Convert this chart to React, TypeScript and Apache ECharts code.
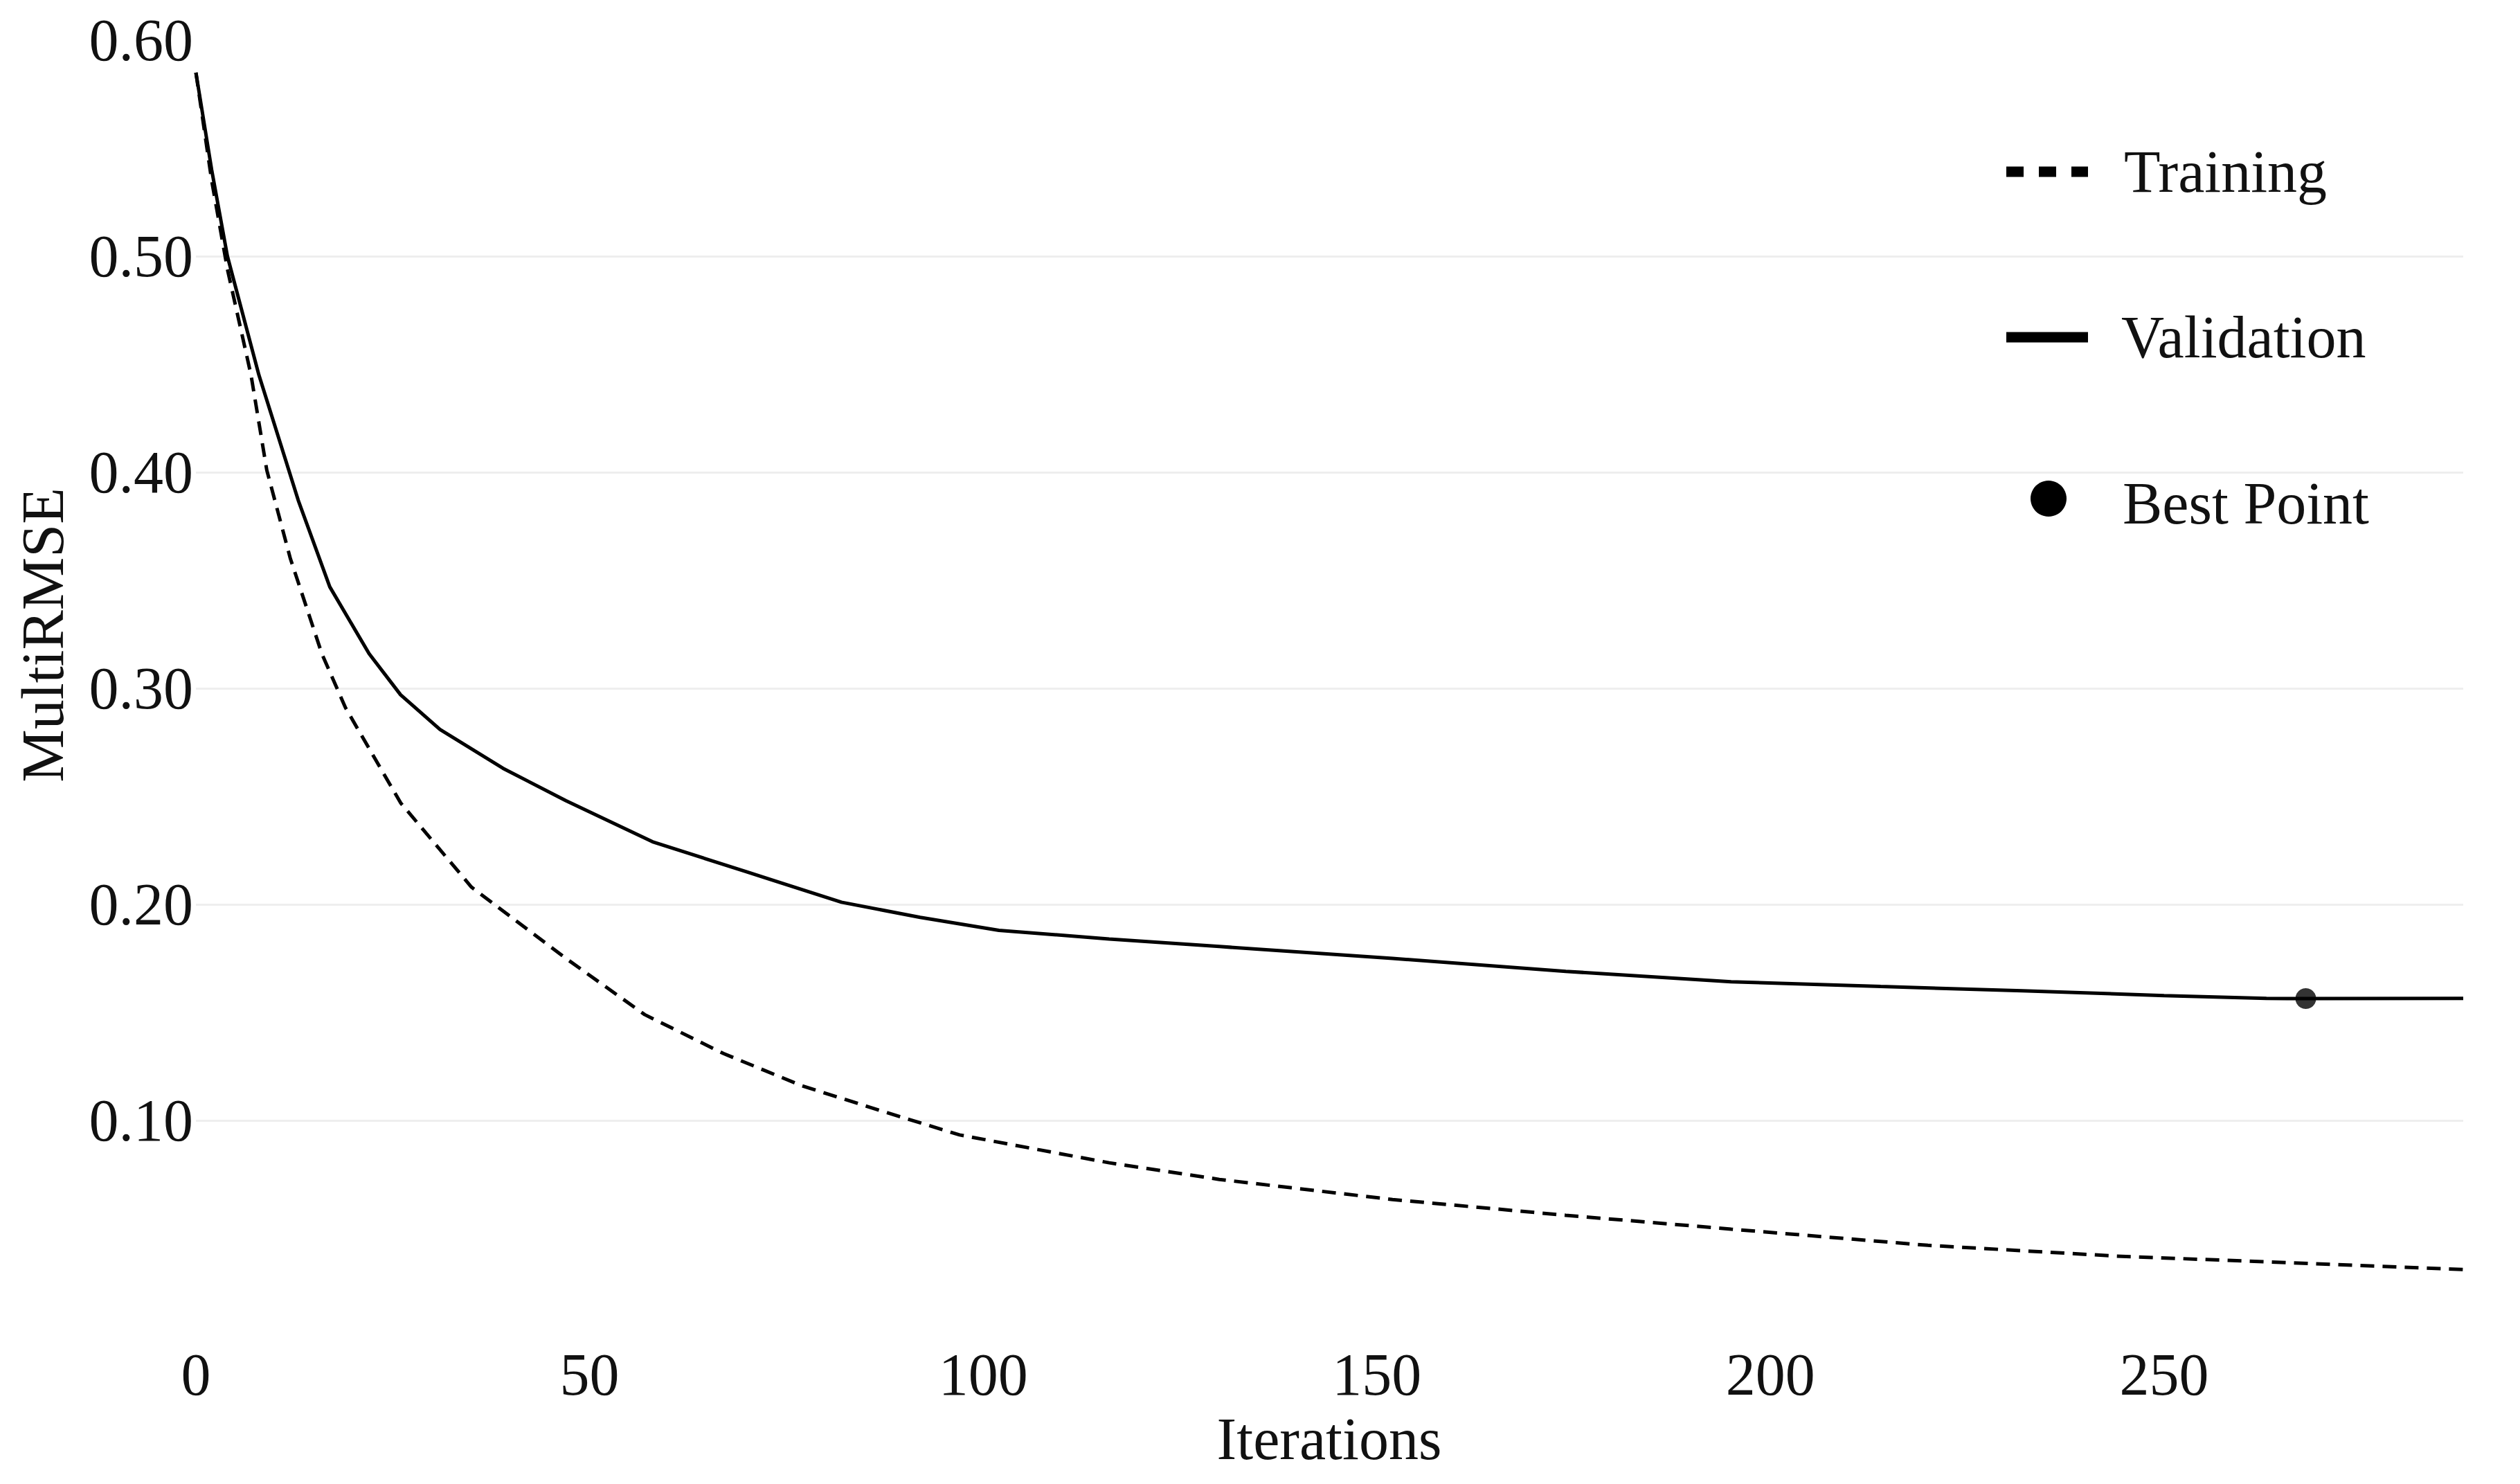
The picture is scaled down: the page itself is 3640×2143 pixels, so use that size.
import React, { useEffect, useRef } from "react";
import * as echarts from "echarts";

// Validation curve (iteration, MultiRMSE)
const validationIters = [0, 2, 4, 8, 13, 17, 22, 26, 31, 39, 47, 58, 70, 82, 92, 102, 116, 130, 152, 174, 195, 214, 232, 250, 263, 268, 288];
const validationValues = [0.585, 0.54, 0.5, 0.445, 0.387, 0.347, 0.316, 0.297, 0.281, 0.263, 0.248, 0.229, 0.215, 0.201, 0.194, 0.188, 0.184, 0.1805, 0.175, 0.169, 0.1642, 0.162, 0.16, 0.1578, 0.1565, 0.1564, 0.1565];

// Training curve (iteration, MultiRMSE)
const trainingIters = [0, 2, 4, 7, 9, 12, 16, 19, 26, 35, 47, 57, 67, 77, 87, 97, 107, 116, 130, 152, 174, 195, 220, 244, 269, 288];
const trainingValues = [0.585, 0.535, 0.494, 0.445, 0.401, 0.36, 0.316, 0.291, 0.247, 0.208, 0.175, 0.149, 0.131, 0.116, 0.1045, 0.0933, 0.0865, 0.0804, 0.0727, 0.0634, 0.0561, 0.0497, 0.0422, 0.0372, 0.0337, 0.031];

// Best point
const bestIter = [268];
const bestValue = [0.1564];

const legendLabels = ["Training", "Validation", "Best Point"];
const xAxisTitle = "Iterations";
const yAxisTitle = "MultiRMSE";

const FONT = "Liberation Serif";
const TEXT = "#111111";

export default function App() {
  const ref = useRef<HTMLDivElement>(null);

  useEffect(() => {
    if (!ref.current) return;
    const chart = echarts.init(ref.current, null, { renderer: "svg" });

    const training = trainingIters.map((x, i) => [x, trainingValues[i]]);
    const validation = validationIters.map((x, i) => [x, validationValues[i]]);
    const best = bestIter.map((x, i) => [x, bestValue[i]]);

    chart.setOption({
      animation: false,
      backgroundColor: "#ffffff",
      grid: { left: 283, right: 82, top: 58, bottom: 213, containLabel: false },
      xAxis: {
        type: "value",
        min: 0,
        max: 288,
        interval: 50,
        axisLine: { show: false },
        axisTick: { show: false },
        splitLine: { show: false },
        axisLabel: {
          fontFamily: FONT,
          fontSize: 86,
          color: TEXT,
          margin: 12,
          formatter: (v: number) => (v % 50 === 0 ? String(v) : ""),
        },
      },
      yAxis: {
        type: "value",
        min: 0,
        max: 0.6,
        interval: 0.1,
        axisLine: { show: false },
        axisTick: { show: false },
        splitLine: {
          show: true,
          showMinLine: false,
          showMaxLine: false,
          lineStyle: { color: "#eeeeee", width: 3 },
        },
        axisLabel: {
          fontFamily: FONT,
          fontSize: 86,
          color: TEXT,
          margin: 4,
          formatter: (v: number) => (v === 0 ? "" : v.toFixed(2)),
        },
      },
      series: [
        {
          name: legendLabels[0],
          type: "line",
          data: training,
          showSymbol: false,
          symbol: "none",
          lineStyle: { color: "#000000", width: 5, type: [20, 12] },
          z: 2,
        },
        {
          name: legendLabels[1],
          type: "line",
          data: validation,
          showSymbol: false,
          symbol: "none",
          lineStyle: { color: "#000000", width: 5 },
          z: 3,
        },
        {
          name: legendLabels[2],
          type: "scatter",
          data: best,
          symbol: "circle",
          symbolSize: 30,
          itemStyle: { color: "#000000" },
          z: 4,
        },
      ],
      graphic: [
        {
          type: "text",
          x: 1920,
          y: 2078,
          style: { text: xAxisTitle, font: `86px "${FONT}"`, fill: TEXT, align: "center", verticalAlign: "middle" },
        },
        {
          type: "text",
          x: 62,
          y: 917,
          rotation: Math.PI / 2,
          style: { text: yAxisTitle, font: `86px "${FONT}"`, fill: TEXT, align: "center", verticalAlign: "middle" },
        },
        {
          type: "line",
          shape: { x1: 2898, y1: 248, x2: 3016, y2: 248 },
          style: { stroke: "#000000", lineWidth: 15, lineDash: [25, 22], lineCap: "butt" },
        },
        {
          type: "text",
          x: 3068,
          y: 248,
          style: { text: legendLabels[0], font: `86px "${FONT}"`, fill: TEXT, align: "left", verticalAlign: "middle" },
        },
        {
          type: "line",
          shape: { x1: 2898, y1: 487, x2: 3016, y2: 487 },
          style: { stroke: "#000000", lineWidth: 15, lineCap: "butt" },
        },
        {
          type: "text",
          x: 3064,
          y: 487,
          style: { text: legendLabels[1], font: `86px "${FONT}"`, fill: TEXT, align: "left", verticalAlign: "middle" },
        },
        {
          type: "circle",
          shape: { cx: 2959, cy: 720, r: 26 },
          style: { fill: "#000000" },
        },
        {
          type: "text",
          x: 3066,
          y: 727,
          style: { text: legendLabels[2], font: `86px "${FONT}"`, fill: TEXT, align: "left", verticalAlign: "middle" },
        },
      ],
    });

    return () => chart.dispose();
  }, []);

  return (
    <div
      ref={ref}
      style={{ position: "absolute", left: 0, top: 0, width: 3640, height: 2143 }}
    />
  );
}
